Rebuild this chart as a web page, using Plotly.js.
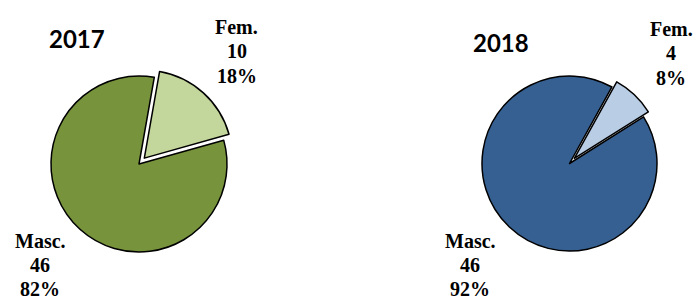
<!DOCTYPE html>
<html>
<head>
<meta charset="utf-8">
<script src="https://cdn.plot.ly/plotly-3.0.1.min.js"></script>
<style>html,body{margin:0;padding:0;background:#fff;}#chart{width:695px;height:299px;}</style>
</head>
<body>
<div id="chart"></div>
<script>
const years = ['2017', '2018'];
const categories = ['Fem.', 'Masc.'];
const values2017 = [10, 46];
const values2018 = [4, 46];
const colors2017 = ['#C3D69B', '#77933C'];
const colors2018 = ['#B9CDE5', '#376092'];

const W = 695, H = 299;
const py = p => 1 - p / H;
const px = p => p / W;

function pct(vals) {
  const t = vals.reduce((a, b) => a + b, 0);
  return vals.map(v => Math.round(v / t * 100) + '%');
}

const pies = [
  { vals: values2017, cols: colors2017, cx: 139, cy: 164, r: 88, pull: 0.09, rot: 10,
    title: { x: 77, y: 38 },
    labels: [{ x: 237, y: [27, 51, 76] }, { x: 40, y: [241, 265, 289] }] },
  { vals: values2018, cols: colors2018, cx: 569.5, cy: 163.5, r: 87.5, pull: 0.08, rot: 29,
    title: { x: 501, y: 42.5 },
    labels: [{ x: 671, y: [29, 53, 78] }, { x: 470, y: [241, 265, 289] }] }
];

const traces = [];
const annotations = [];
pies.forEach((p, i) => {
  const half = p.r * (1 + p.pull);
  traces.push({
    type: 'pie',
    values: p.vals,
    labels: categories,
    sort: false,
    direction: 'clockwise',
    rotation: p.rot,
    pull: [p.pull, 0],
    textinfo: 'none',
    hoverinfo: 'none',
    marker: { colors: p.cols, line: { color: '#000000', width: 1.5 } },
    domain: { x: [px(p.cx - half), px(p.cx + half)], y: [py(p.cy + half), py(p.cy - half)] },
    showlegend: false
  });
  annotations.push({
    text: years[i], xref: 'paper', yref: 'paper', x: px(p.title.x), y: py(p.title.y),
    xanchor: 'center', yanchor: 'middle', showarrow: false,
    font: { family: 'Lato, Carlito, sans-serif', size: 24, color: '#000', weight: 'bold' }
  });
  const pcts = pct(p.vals);
  categories.forEach((c, j) => {
    const lines = [c, String(p.vals[j]), pcts[j]];
    lines.forEach((t, k) => {
      annotations.push({
        text: '<b>' + t + '</b>', xref: 'paper', yref: 'paper',
        x: px(p.labels[j].x), y: py(p.labels[j].y[k]),
        xanchor: 'center', yanchor: 'middle', showarrow: false,
        font: { family: '"Liberation Serif", "Times New Roman", serif', size: 20, color: '#000' }
      });
    });
  });
});

Plotly.newPlot('chart', traces, {
  width: W, height: H,
  margin: { l: 0, r: 0, t: 0, b: 0 },
  paper_bgcolor: '#ffffff',
  plot_bgcolor: '#ffffff',
  annotations: annotations
}, { displayModeBar: false, staticPlot: true });
</script>
</body>
</html>
